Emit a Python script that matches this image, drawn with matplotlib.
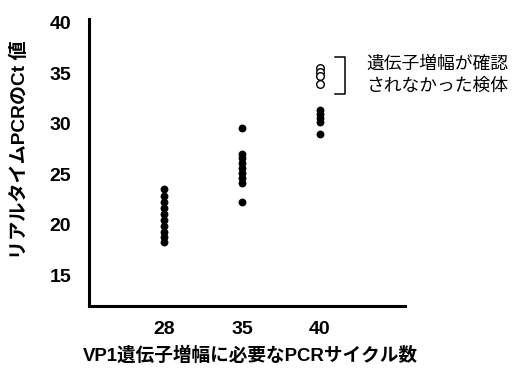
import matplotlib
matplotlib.use("Agg")
import matplotlib.pyplot as plt

categories = ["28", "35", "40"]
filled_values = [
    [23.5, 22.9, 22.3, 21.7, 21.1, 20.5, 19.9, 19.3, 18.8, 18.3],
    [29.6, 27.0, 26.6, 26.1, 25.6, 25.1, 24.6, 24.1, 22.3],
    [31.4, 31.0, 30.6, 30.2, 29.0],
]
open_values = [35.5, 35.1, 34.7, 33.9]
y_ticks = [15, 20, 25, 30, 35, 40]

FAM = ["Liberation Sans", "Noto Sans CJK JP"]
plt.rcParams["font.family"] = FAM

fig = plt.figure(figsize=(5.12, 3.72), dpi=100)
ax = fig.add_axes([0.174, 0.177, 0.617, 0.772])

for i, vals in enumerate(filled_values):
    ax.scatter([i] * len(vals), vals, s=32, color="black", zorder=3, linewidths=0)
ax.scatter([2] * len(open_values), open_values, s=30, facecolors="white",
           edgecolors="black", linewidths=1.0, zorder=3)

ax.set_xlim(-0.97, 3.10)
ax.set_ylim(11.95, 40.37)
ax.set_xticks(range(len(categories)))
ax.set_xticklabels(categories)
ax.set_yticks(y_ticks)
ax.tick_params(axis="both", length=0, labelsize=14)
ax.tick_params(axis="y", pad=13)
ax.tick_params(axis="x", pad=11)
for lbl in ax.get_xticklabels() + ax.get_yticklabels():
    lbl.set_fontweight("bold")

for s in ["top", "right"]:
    ax.spines[s].set_visible(False)
for s in ["left", "bottom"]:
    ax.spines[s].set_linewidth(2.2)
    ax.spines[s].set_capstyle("projecting")

# bracket
ax.plot([2.2, 2.33, 2.33, 2.2], [36.65, 36.65, 32.94, 32.94], color="black",
        lw=1.1, clip_on=False)
ax.text(2.6, 34.8, "遺伝子増幅が確認\nされなかった検体", fontsize=12.8,
        va="center", ha="left", linespacing=1.45)

ax.set_xlabel("VP1遺伝子増幅に必要なPCRサイクル数", fontsize=13.4,
              fontweight="bold")
ax.xaxis.set_label_coords(0.51, -0.14)
ax.set_ylabel("リアルタイムPCRのCt 値", fontsize=13.8, fontweight="bold")
ax.yaxis.set_label_coords(-0.19, 0.545)

fig.savefig("out.png", dpi=100)
